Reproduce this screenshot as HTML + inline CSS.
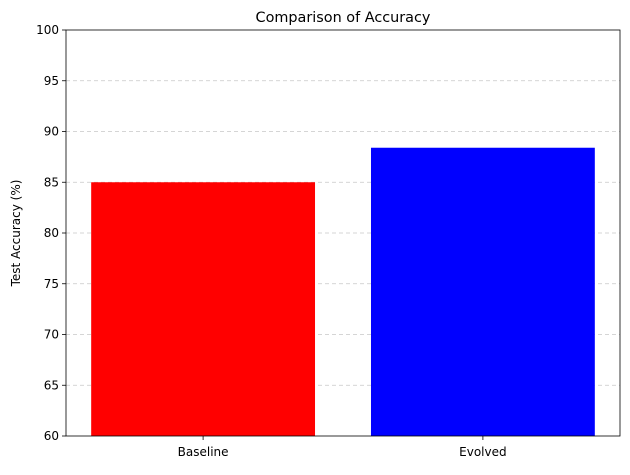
<!DOCTYPE html>
<html><head><meta charset="utf-8"><style>
body{margin:0;background:#fff;font-family:"Liberation Sans","DejaVu Sans",sans-serif}
</style></head><body>
<svg id="chart" width="630" height="470" xmlns="http://www.w3.org/2000/svg" font-family="DejaVu Sans, Liberation Sans, sans-serif"></svg>
<script>
const categories = ["Baseline", "Evolved"];
const accuracyValues = [85.0, 88.4];
const barColors = ["#ff0000", "#0000ff"];
const yTicks = [60, 65, 70, 75, 80, 85, 90, 95, 100];

const svg = document.getElementById('chart');
const NS = 'http://www.w3.org/2000/svg';
const L = 66, R = 620, T = 30, B = 436;
const yMin = 60, yMax = 100, xMin = -0.49, xMax = 1.49;
const y = v => B - (v - yMin) / (yMax - yMin) * (B - T);
const x = v => L + (v - xMin) / (xMax - xMin) * (R - L);
function mk(tag, attrs, parent) {
  const e = document.createElementNS(NS, tag);
  for (const k in attrs) e.setAttribute(k, attrs[k]);
  (parent || svg).appendChild(e);
  return e;
}
// grid
yTicks.forEach(t => {
  if (t === yMin || t === yMax) return;
  const g = mk('line', {x1: L, x2: R, y1: y(t), y2: y(t), stroke: '#b0b0b0', 'stroke-width': 0.8, 'stroke-dasharray': '4,3', opacity: 0.7});
  
  
});
// bars
categories.forEach((c, i) => {
  const w = x(0.4) - x(0);
  const r = mk('rect', {x: x(i) - w, y: y(accuracyValues[i]), width: 2 * w, height: B - y(accuracyValues[i]), fill: barColors[i]});
  
  
  mk('line', {x1: x(i), x2: x(i), y1: B, y2: B + 4, stroke: '#000', 'stroke-width': 0.8});
  const t = mk('text', {x: x(i), y: B + 20, 'text-anchor': 'middle', 'font-size': 12});
  t.textContent = c;
  
  
});
// y ticks
yTicks.forEach(t => {
  mk('line', {x1: L - 4, x2: L, y1: y(t), y2: y(t), stroke: '#000', 'stroke-width': 0.8});
  const tx = mk('text', {x: L - 7, y: y(t) + 4, 'text-anchor': 'end', 'font-size': 12});
  tx.textContent = t;
  
  
});
// frame
const f = mk('rect', {x: L, y: T, width: R - L, height: B - T, fill: 'none', stroke: '#000', 'stroke-width': 0.8});


const title = mk('text', {x: (L + R) / 2, y: T - 8, 'text-anchor': 'middle', 'font-size': 14.4});
title.textContent = 'Comparison of Accuracy';


const yl = mk('text', {x: 0, y: 0, 'text-anchor': 'middle', 'font-size': 12, transform: `translate(20,${(T + B) / 2}) rotate(-90)`});
yl.textContent = 'Test Accuracy (%)';


</script>
</body></html>
